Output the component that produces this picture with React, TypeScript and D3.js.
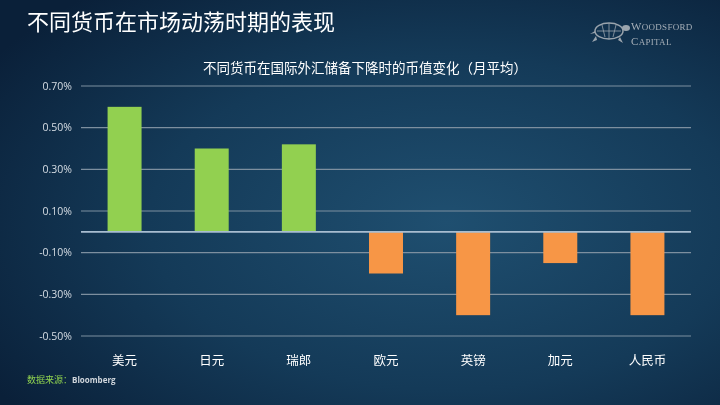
import React from "react";
import * as d3 from "d3";

const categories = ["美元", "日元", "瑞郎", "欧元", "英镑", "加元", "人民币"];
const values = [0.6, 0.4, 0.42, -0.2, -0.4, -0.15, -0.4];
const tickValues = [0.7, 0.5, 0.3, 0.1, -0.1, -0.3, -0.5];
const title = "不同货币在市场动荡时期的表现";
const subtitle = "不同货币在国际外汇储备下降时的币值变化（月平均）";
const sourceLabel = "数据来源：";
const sourceName = "Bloomberg";

const W = 720;
const H = 405;
const plot = { left: 81, right: 691, top: 86, bottom: 336 };
const cjk = "'Noto Sans CJK SC', 'Noto Sans', sans-serif";

export default function App() {
  const x = d3
    .scaleBand<string>()
    .domain(categories)
    .range([plot.left, plot.right])
    .paddingInner(0.61)
    .paddingOuter(0.305);
  const y = d3.scaleLinear().domain([-0.5, 0.7]).range([plot.bottom, plot.top]);
  const fmt = (v: number) => `${v.toFixed(2)}%`;

  return (
    <svg
      width={W}
      height={H}
      style={{ position: "fixed", left: 0, top: 0, display: "block" }}
    >
      <defs>
        <radialGradient id="bg" cx="0.62" cy="0.55" r="0.75">
          <stop offset="0" stopColor="#1f4f70" />
          <stop offset="0.55" stopColor="#143a58" />
          <stop offset="1" stopColor="#0a2039" />
        </radialGradient>
      </defs>
      <rect width={W} height={H} fill="url(#bg)" />

      <text x={27} y={30} fill="#ffffff" fontFamily={cjk} fontSize={22}>
        {title}
      </text>

      {/* logo */}
      <g transform="translate(590,18)" fill="#9aa4ad">
        <ellipse cx={19} cy={13} rx={14} ry={8} fill="none" stroke="#9aa4ad" strokeWidth={1.5} />
        <path d="M7,13 L31,13 M12,7 L15,19 M19,5 L19,21 M26,7 L23,19" stroke="#9aa4ad" strokeWidth={0.8} fill="none" />
        <ellipse cx={36} cy={10} rx={4} ry={3} />
        <path d="M6,18 L2,24 L7,22 Z M30,19 L33,25 L28,22 Z M5,13 L0,16 L5,15 Z" />
      </g>
      <text x={631} y={30} fill="#a6afb8" fontFamily="'Liberation Serif', serif" fontSize={11} letterSpacing={0.3}>
        W<tspan fontSize={9}>OODSFORD</tspan>
      </text>
      <text x={631} y={45} fill="#a6afb8" fontFamily="'Liberation Serif', serif" fontSize={11} letterSpacing={0.3}>
        C<tspan fontSize={9}>APITAL</tspan>
      </text>

      <text x={365} y={73} textAnchor="middle" fill="#ffffff" fontFamily={cjk} fontSize={13.5}>
        {subtitle}
      </text>

      {tickValues.map((t) => (
        <g key={t}>
          <line
            x1={plot.left}
            x2={plot.right}
            y1={y(t)}
            y2={y(t)}
            stroke="#7d8f9f"
            strokeWidth={1.2}
          />
          <text
            x={72}
            y={y(t)}
            dy="0.35em"
            textAnchor="end"
            fill="#d6dde4"
            fontFamily="'Open Sans', sans-serif"
            fontSize={10.5}
          >
            {fmt(t)}
          </text>
        </g>
      ))}

      {categories.map((c, i) => {
        const v = values[i];
        return (
          <rect
            key={c}
            x={x(c)}
            width={x.bandwidth()}
            y={y(Math.max(0, v))}
            height={Math.abs(y(v) - y(0))}
            fill={v >= 0 ? "#92d050" : "#f79646"}
          />
        );
      })}

      <line
        x1={plot.left}
        x2={plot.right}
        y1={y(0)}
        y2={y(0)}
        stroke="#a8bdd0"
        strokeWidth={1.8}
      />

      {categories.map((c) => (
        <text
          key={c}
          x={(x(c) ?? 0) + x.bandwidth() / 2}
          y={361}
          dy="0.35em"
          textAnchor="middle"
          fill="#ffffff"
          fontFamily={cjk}
          fontSize={12.5}
        >
          {c}
        </text>
      ))}

      <text x={27} y={383} fontFamily={cjk} fontSize={9}>
        <tspan fill="#8fd14f">{sourceLabel}</tspan>
        <tspan fill="#d0d6dc" fontFamily="'Open Sans', sans-serif" fontWeight="bold" fontSize={8}>
          {sourceName}
        </tspan>
      </text>
    </svg>
  );
}
